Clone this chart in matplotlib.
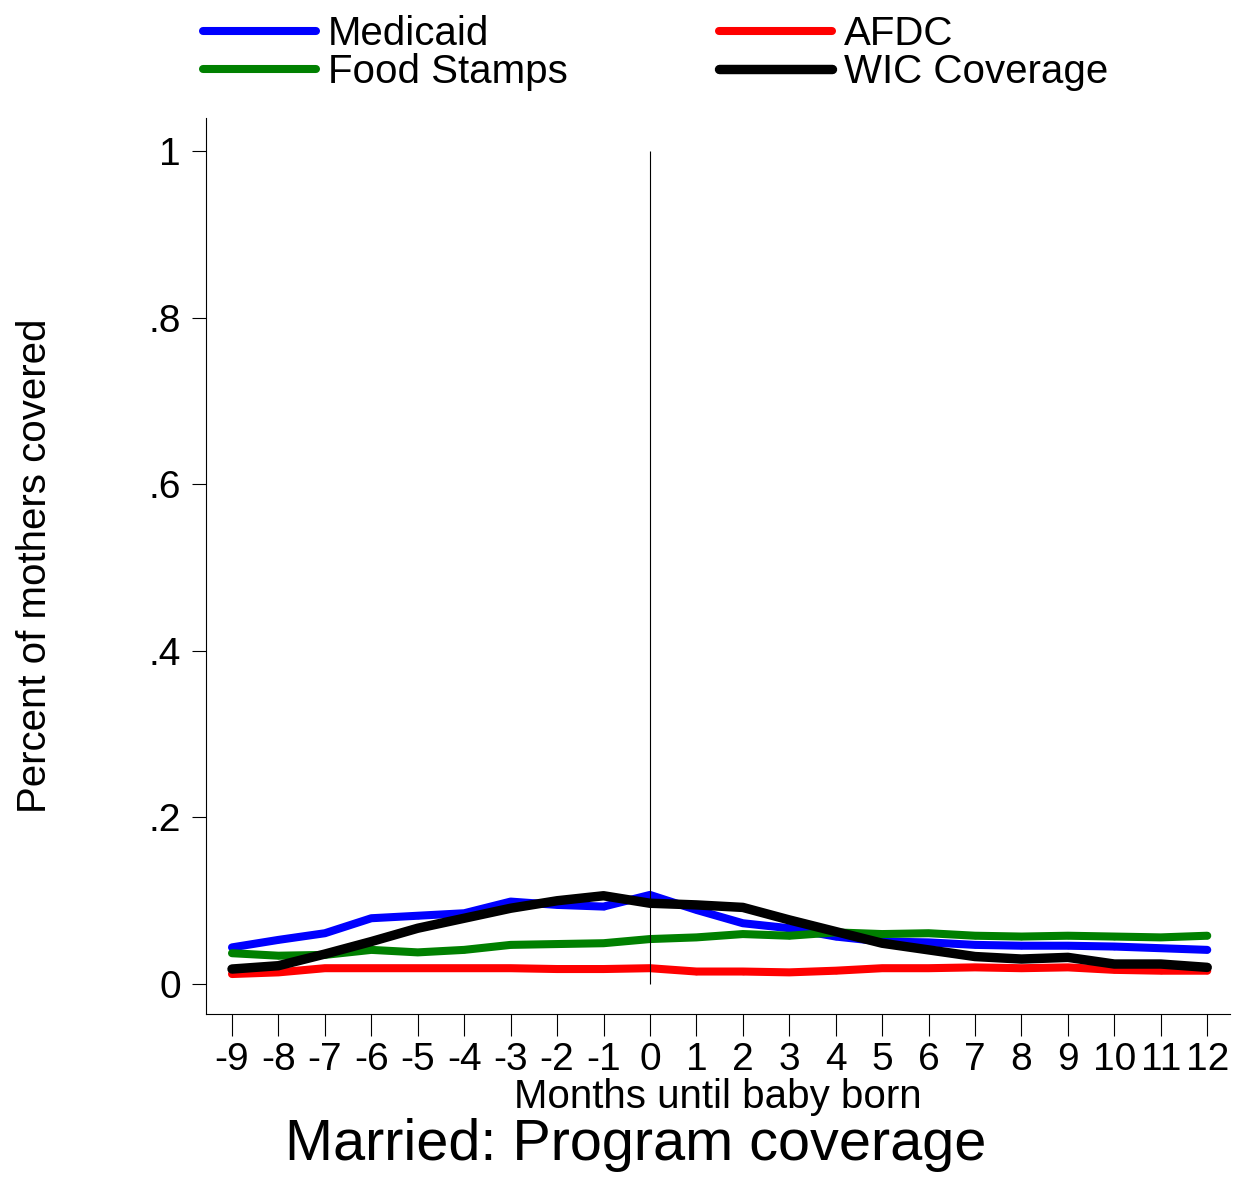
import numpy as np
import matplotlib
matplotlib.use("Agg")
import matplotlib.pyplot as plt

plt.rcParams['font.family'] = ['Liberation Sans', 'DejaVu Sans']

# months relative to birth
months = list(range(-9, 13))

# share of married mothers covered by each program
medicaid = [0.044, 0.053, 0.061, 0.079, 0.082, 0.085, 0.099, 0.095, 0.093, 0.107,
            0.089, 0.073, 0.067, 0.057, 0.051, 0.050, 0.047, 0.046, 0.046, 0.045, 0.043, 0.041]
afdc = [0.012, 0.014, 0.019, 0.019, 0.019, 0.019, 0.019, 0.018, 0.018, 0.019,
        0.015, 0.015, 0.014, 0.016, 0.019, 0.019, 0.020, 0.019, 0.020, 0.017, 0.016, 0.016]
food_stamps = [0.037, 0.034, 0.035, 0.041, 0.038, 0.041, 0.047, 0.048, 0.049, 0.054,
               0.056, 0.060, 0.058, 0.062, 0.060, 0.061, 0.058, 0.057, 0.058, 0.057, 0.056, 0.058]
wic = [0.018, 0.022, 0.036, 0.051, 0.067, 0.079, 0.091, 0.100, 0.106, 0.097,
       0.095, 0.092, 0.077, 0.063, 0.049, 0.041, 0.033, 0.030, 0.032, 0.024, 0.024, 0.020]

yticks = [0, 0.2, 0.4, 0.6, 0.8, 1]
ytick_labels = ['0', '.2', '.4', '.6', '.8', '1']

fig = plt.figure(figsize=(12.36, 11.8), dpi=100)
ax = fig.add_axes([206 / 1236, 1 - 1014 / 1180, (1230 - 206) / 1236, (1014 - 118) / 1180])

lw = 5.8
h1, = ax.plot(months, medicaid, color='#0000ff', lw=lw, marker='o', ms=3, solid_capstyle='round', label='Medicaid')
h2, = ax.plot(months, afdc, color='#ff0000', lw=lw, marker='o', ms=3, solid_capstyle='round', label='AFDC')
h3, = ax.plot(months, food_stamps, color='#008000', lw=lw, marker='o', ms=3, solid_capstyle='round', label='Food Stamps')
h4, = ax.plot(months, wic, color='black', lw=lw + 1, marker='o', ms=3, solid_capstyle='round', label='WIC Coverage')

ax.vlines(0, 0, 1, color='black', lw=0.8)

ax.set_xlim(-9.56, 12.49)
ax.set_ylim(-0.036, 1.04)
ax.set_xticks(months)
ax.set_xticklabels([str(m) for m in months])
ax.set_yticks(yticks)
ax.set_yticklabels(ytick_labels)
ax.tick_params(axis='x', direction='out', length=16, width=0.8, labelsize=28, pad=4)
ax.tick_params(axis='y', direction='out', length=10, width=0.8, labelsize=28, pad=8)
for s in ['top', 'right']:
    ax.spines[s].set_visible(False)

ax.set_xlabel('Months until baby born', fontsize=29, labelpad=0)
ax.set_ylabel('Percent of mothers covered', fontsize=29, labelpad=68)

fig.text(636 / 1236, 1 - 1145 / 1180, 'Married: Program coverage', fontsize=41.5, ha='center', va='center')

fig.legend([h1, h3, h2, h4], ['Medicaid', 'Food Stamps', 'AFDC', 'WIC Coverage'],
           loc='upper left', bbox_to_anchor=(203 / 1236, 1 - 15 / 1180), ncol=2, frameon=False,
           fontsize=29, handlelength=2.8, handletextpad=0.3, columnspacing=3.75,
           labelspacing=0.0, borderpad=0, borderaxespad=0)

fig.savefig('out.png', dpi=100)
